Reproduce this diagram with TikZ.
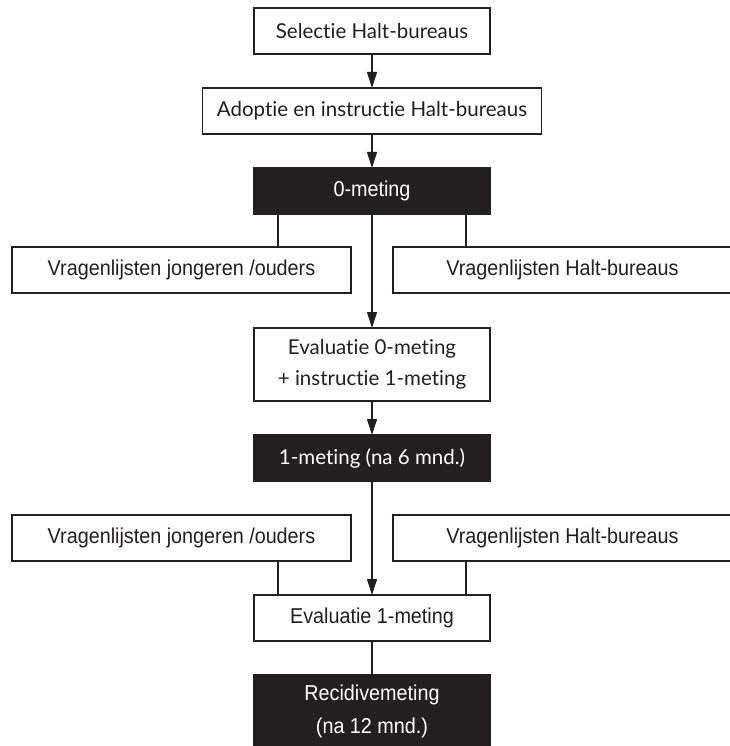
\documentclass[tikz,border=0pt]{standalone}
\usepackage{fontspec}
\setmainfont[FakeStretch=0.92]{Liberation Sans}
\newfontfamily\widefont[Ligatures={NoCommon,NoRare}]{Lato}
\usetikzlibrary{positioning,arrows.meta}
\definecolor{inkblack}{HTML}{231F20}
\newcommand{\condtext}{\fontsize{21.5}{33}\selectfont}
\newcommand{\widetext}{\widefont\fontsize{20.5}{31}\selectfont}

\begin{document}
\begin{tikzpicture}[x=1pt, y=-1pt, node distance=34pt, outer sep=0pt, line width=1.1pt, color=inkblack,
    box/.style={draw, rectangle, fill=white, minimum width=236pt, minimum height=46pt, inner sep=0pt, font=\condtext},
    dark/.style={box, fill=inkblack, text=white},
    flow/.style={-{Triangle[length=16pt,width=10pt]}}]
    \useasboundingbox (0,0) rectangle (729,746);

    \node [box, font=\widetext] (s1) at (372,31) {Selectie Halt-bureaus};
    \node [box, font=\widetext, minimum width=339pt, below=of s1] (s2) {Adoptie en instructie Halt-bureaus};
    \node [dark, below=of s2] (m0) {0-meting};

    \node [box, minimum width=339pt, below left=33pt and 21pt of m0.south] (v1l) {Vragenlijsten jongeren /ouders};
    \node [box, minimum width=339pt, below right=33pt and 21pt of m0.south] (v1r) {Vragenlijsten Halt-bureaus};

    \node [box, font=\widetext, align=center, minimum height=73pt, below=114pt of m0] (e0) {Evaluatie 0-meting\\+ instructie 1-meting};
    \node [dark, font=\widetext, below=of e0] (m1) {1-meting (na 6 mnd.)};

    \node [box, minimum width=339pt, below left=34pt and 21pt of m1.south] (v2l) {Vragenlijsten jongeren /ouders};
    \node [box, minimum width=339pt, below right=34pt and 21pt of m1.south] (v2r) {Vragenlijsten Halt-bureaus};

    \node [box, below=114pt of m1] (e1) {Evaluatie 1-meting};
    \node [dark, align=center, minimum height=73pt, below=of e1] (r) {Recidivemeting\\(na 12 mnd.)};

    % main line
    \draw [flow] (s1) -- (s2);
    \draw [flow] (s2) -- (m0);
    \draw [flow] (m0) -- (e0);
    \draw [flow] (e0) -- (m1);
    \draw [flow] (m1) -- (e1);
    \draw (e1) -- (r);

    % side lines
    \draw ([xshift=-94pt]m0.south) -- ([xshift=-94pt]m0.south |- v1l.north);
    \draw ([xshift=94pt]m0.south) -- ([xshift=94pt]m0.south |- v1r.north);
    \draw ([xshift=-94pt]e1.north) -- ([xshift=-94pt]e1.north |- v2l.south);
    \draw ([xshift=94pt]e1.north) -- ([xshift=94pt]e1.north |- v2r.south);
\end{tikzpicture}
\end{document}
